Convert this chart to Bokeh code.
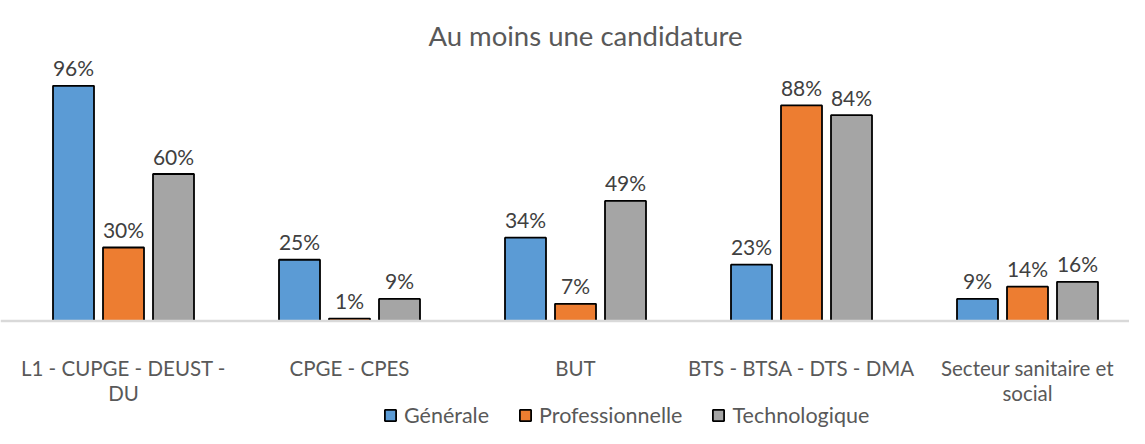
from bokeh.plotting import figure
from bokeh.models import ColumnDataSource, Range1d, Legend, LegendItem, Span
from bokeh.transform import dodge
from bokeh.core.properties import value
from bokeh.embed import file_html
from bokeh.resources import INLINE

title = "Au moins une candidature"
categories = ["L1 - CUPGE - DEUST -\nDU", "CPGE - CPES", "BUT",
              "BTS - BTSA - DTS - DMA", "Secteur sanitaire et\nsocial"]
series_names = ["Générale", "Professionnelle", "Technologique"]
generale = [96, 25, 34, 23, 9]
professionnelle = [30, 1, 7, 88, 14]
technologique = [60, 9, 49, 84, 16]

colors = ["#5B9BD5", "#ED7D31", "#A5A5A5"]
FONT = "Lato"

# layout (pixels)
W, H = 1129, 428
PX_PER_CAT = 226.0
PX_PER_PCT = 2.45
ZERO_Y = 320.5          # axis line, from plot top
FIRST_CENTER_X = 123.0  # first category centre, from plot left

x0 = 0.5 - FIRST_CENTER_X / PX_PER_CAT
x1 = x0 + W / PX_PER_CAT
y1 = ZERO_Y / PX_PER_PCT
y0 = y1 - H / PX_PER_PCT

xs = [i + 0.5 for i in range(len(categories))]
line1 = [c.split("\n")[0] for c in categories]
line2 = [c.split("\n")[1] if "\n" in c else "" for c in categories]

src = ColumnDataSource(dict(
    x=xs, zero=[0] * len(xs),
    gen=generale, pro=professionnelle, tech=technologique,
    gen_l=[f"{v}%" for v in generale],
    pro_l=[f"{v}%" for v in professionnelle],
    tech_l=[f"{v}%" for v in technologique],
    l1=line1, l2=line2,
))

p = figure(width=W, height=H, output_backend="svg", toolbar_location=None,
           x_range=Range1d(x0, x1), y_range=Range1d(y0, y1),
           min_border=0)
p.outline_line_color = None
p.grid.visible = False
p.axis.visible = False
p.background_fill_color = "white"

step = 50 / PX_PER_CAT
bw = 41 / PX_PER_CAT
renderers = []
for j, (col, c) in enumerate(zip(["gen", "pro", "tech"], colors)):
    off = (j - 1) * step
    r = p.vbar(x=dodge("x", off, range=p.x_range), top=col, width=bw, bottom=0,
               source=src, fill_color=c, line_color="#000000", line_width=1.8)
    renderers.append(r)
    p.text(x=dodge("x", off, range=p.x_range), y=col, text=col + "_l", source=src,
           text_align="center", text_baseline="alphabetic", y_offset=-18,
           text_font=value(FONT), text_font_size="21px", text_color="#404040")

# category axis line and labels
p.add_layout(Span(location=0, dimension="width", line_color="#D9D9D9", line_width=2.5))
p.text(x="x", y="zero", text="l1", source=src, text_align="center", text_baseline="alphabetic",
       y_offset=46.5, text_font=value(FONT), text_font_size="20.5px", text_color="#595959")
p.text(x="x", y="zero", text="l2", source=src, text_align="center", text_baseline="alphabetic",
       y_offset=71.5, text_font=value(FONT), text_font_size="20.5px", text_color="#595959")

# title
p.text(x=[x0 + 585 / PX_PER_CAT], y=[y1], text=[title], text_align="center",
       text_baseline="alphabetic", y_offset=35,
       text_font=value(FONT), text_font_size="27.5px", text_color="#595959")

legend = Legend(items=[LegendItem(label=n, renderers=[r]) for n, r in zip(series_names, renderers)],
                orientation="horizontal", location=(383, 0),
                label_text_font=FONT, label_text_font_size="21.5px", label_text_color="#595959",
                glyph_width=14, glyph_height=14, spacing=29, label_standoff=7,
                border_line_color=None, background_fill_alpha=0, padding=0, margin=0)
p.add_layout(legend, "center")

open("out.html", "w").write(file_html(p, INLINE))
